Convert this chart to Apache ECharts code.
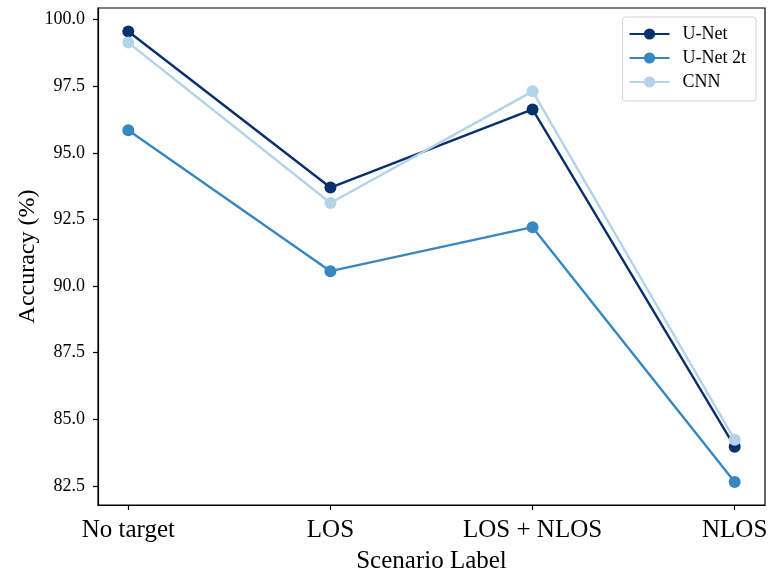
<!DOCTYPE html>
<html>
<head>
<meta charset="utf-8">
<script src="https://cdn.jsdelivr.net/npm/echarts@6/dist/echarts.min.js"></script>
<style>
  html, body { margin: 0; padding: 0; background: #fff; }
  #chart { width: 769px; height: 574px; }
</style>
</head>
<body>
<div id="chart"></div>
<script>
// Scenario categories along the x axis
const categories = ['No target', 'LOS', 'LOS + NLOS', 'NLOS'];

// Accuracy (%) per model and scenario
const unet   = [99.56, 93.70, 96.63, 83.97];
const unet2t = [95.85, 90.56, 92.21, 82.64];
const cnn    = [99.14, 93.12, 97.31, 84.23];

// Y tick positions
const yTicks = [82.5, 85.0, 87.5, 90.0, 92.5, 95.0, 97.5, 100.0];

const font = 'Liberation Serif, Times New Roman, serif';

function toPoints(values) {
  return values.map((v, i) => [i, v]);
}

const seriesDefs = [
  { name: 'U-Net', data: unet, color: '#08306b' },
  { name: 'U-Net 2t', data: unet2t, color: '#3787c0' },
  { name: 'CNN', data: cnn, color: '#b3d3e8' }
];

const chart = echarts.init(document.getElementById('chart'), null, { renderer: 'canvas' });

chart.setOption({
  animation: false,
  backgroundColor: '#ffffff',
  textStyle: { fontFamily: font },
  grid: {
    left: 98, right: 4, top: 8, bottom: 69,
    outerBoundsMode: 'none',
    show: true, borderColor: '#000', borderWidth: 1.2, containLabel: false
  },
  legend: {
    right: 13, top: 17,
    orient: 'vertical',
    backgroundColor: '#fff',
    borderColor: '#d4d4d4',
    borderWidth: 1,
    borderRadius: 3,
    padding: [8, 10, 10, 6],
    itemGap: 6,
    itemWidth: 40,
    itemHeight: 14,
    textStyle: { fontFamily: font, fontSize: 18, color: '#000', padding: [0, 0, 0, 8] },
    data: seriesDefs.map(s => s.name)
  },
  xAxis: {
    type: 'value',
    min: -0.15,
    max: 3.15,
    name: 'Scenario Label',
    nameLocation: 'middle',
    nameGap: 44,
    nameTextStyle: { fontFamily: font, fontSize: 25, color: '#000' },
    axisLine: { show: true, onZero: false, lineStyle: { color: '#000', width: 1.2 } },
    axisTick: {
      show: true, length: 5, inside: false,
      customValues: categories.map((c, i) => i),
      lineStyle: { color: '#000', width: 1.2 }
    },
    axisLabel: {
      show: true, margin: 13,
      fontFamily: font, fontSize: 25, color: '#000',
      customValues: categories.map((c, i) => i),
      formatter: v => categories[Math.round(v)]
    },
    splitLine: { show: false }
  },
  yAxis: {
    type: 'value',
    min: 81.78,
    max: 100.44,
    name: 'Accuracy (%)',
    nameLocation: 'middle',
    nameGap: 58,
    nameMoveOverlap: false,
    nameTextStyle: { fontFamily: font, fontSize: 24, color: '#000' },
    axisLine: { show: true, onZero: false, lineStyle: { color: '#000', width: 1.2 } },
    axisTick: {
      show: true, length: 5, inside: false,
      customValues: yTicks,
      lineStyle: { color: '#000', width: 1.2 }
    },
    axisLabel: {
      show: true, margin: 13,
      fontFamily: font, fontSize: 18, color: '#000',
      customValues: yTicks,
      formatter: v => v.toFixed(1)
    },
    splitLine: { show: false }
  },
  series: seriesDefs.map(s => ({
    name: s.name,
    type: 'line',
    data: toPoints(s.data),
    symbol: 'circle',
    symbolSize: 12,
    showSymbol: true,
    lineStyle: { color: s.color, width: 2.4 },
    itemStyle: { color: s.color },
    emphasis: { disabled: true }
  }))
});
</script>
</body>
</html>
